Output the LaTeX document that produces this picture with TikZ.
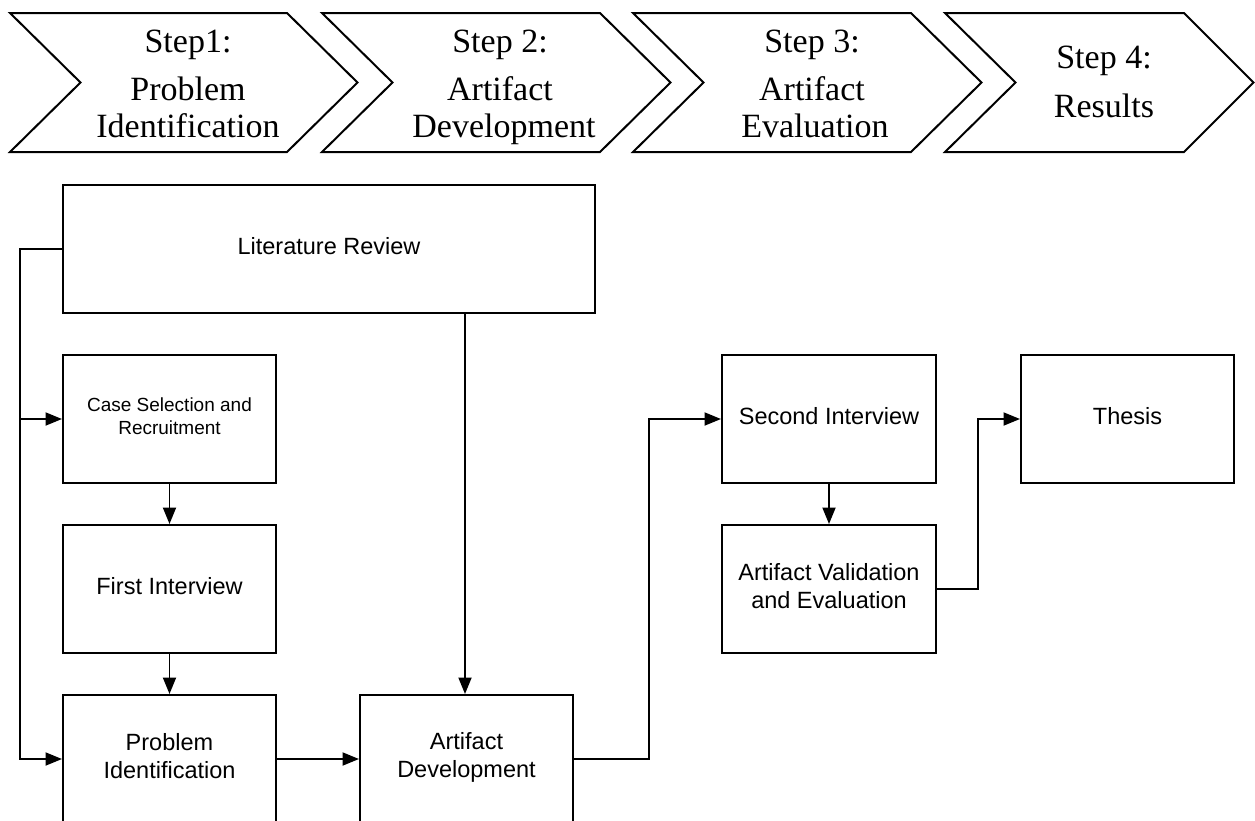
\documentclass[tikz,border=0pt]{standalone}
\usepackage{fontspec}
\setmainfont{Liberation Serif}
\setsansfont{Liberation Sans}
\usetikzlibrary{arrows.meta}

\begin{document}
\begin{tikzpicture}[x=1pt,y=-1pt,
  chev/.style={draw, line width=2pt, line join=miter},
  steptext/.style={anchor=base, inner sep=0pt, font=\rmfamily\fontsize{34}{37}\selectfont},
  box/.style={draw, line width=2pt, minimum width=213pt, minimum height=128pt,
    inner sep=0pt, align=center, text depth=6pt, font=\sffamily\fontsize{23.5}{28.8}\selectfont},
  smallbox/.style={box, font=\sffamily\fontsize{19}{22.5}\selectfont},
  conn/.style={line width=1.9pt, -{Triangle[length=16.5pt,width=13pt]}}]

\useasboundingbox (0,0) rectangle (1255,820);
\clip (0,0) rectangle (1255,820);
\fill[white] (0,0) rectangle (1255,820);

% process chevrons along the top
\draw[chev] (10,13) -- (287,13) -- (357.5,82.5) -- (287,152) -- (10,152) -- (80.5,82.5) -- cycle;
\draw[chev] (322,13) -- (600,13) -- (670.5,82.5) -- (600,152) -- (322,152) -- (392.5,82.5) -- cycle;
\draw[chev] (633,13) -- (911,13) -- (981.5,82.5) -- (911,152) -- (633,152) -- (703.5,82.5) -- cycle;
\draw[chev] (945,13) -- (1184,13) -- (1253.5,82.5) -- (1184,152) -- (945,152) -- (1015.5,82.5) -- cycle;

\node[steptext] (s1a) at (188,52) {Step1:};
\node[steptext] (s1b) at (188,100) {Problem};
\node[steptext] (s1c) at (188,137) {Identification};

\node[steptext] (s2a) at (500,52) {Step 2:};
\node[steptext] (s2b) at (500,100) {Artifact};
\node[steptext] (s2c) at (504,137) {Development};

\node[steptext] (s3a) at (812,52) {Step 3:};
\node[steptext] (s3b) at (812,100) {Artifact};
\node[steptext] (s3c) at (815,137) {Evaluation};

\node[steptext] (s4a) at (1104,68) {Step 4:};
\node[steptext] (s4b) at (1104,117) {Results};

% activity boxes
\node[box, minimum width=532pt] (lit) at (329,249) {Literature Review};
\node[smallbox] (case) at (169.5,419) {Case Selection and\\Recruitment};
\node[box] (first) at (169.5,589) {First Interview};
\node[box] (prob) at (169.5,759) {Problem\\Identification};
\node[box, text depth=8pt] (dev) at (466.5,759) {Artifact\\Development};
\node[box, minimum width=214pt] (si) at (829,419) {Second Interview};
\node[box, minimum width=214pt] (av) at (829,589) {Artifact Validation\\and Evaluation};
\node[box] (thesis) at (1127.5,419) {Thesis};

% routing columns for the elbow connectors
\coordinate (busL) at (20,0);
\coordinate (busM) at (649,0);
\coordinate (busR) at (978,0);
\coordinate (litdrop) at (465,313);

% connectors
\draw[conn] (lit.west) -- (lit.west -| busL) |- (prob.west);
\draw[conn] (case.west -| busL) -- (case.west);
\draw[conn] (case.south) -- (first.north);
\draw[conn] (first.south) -- (prob.north);
\draw[conn] (litdrop) -- (litdrop |- dev.north);
\draw[conn] (prob.east) -- (dev.west);
\draw[conn] (dev.east) -- (dev.east -| busM) |- (si.west);
\draw[conn] (si.south) -- (av.north);
\draw[conn] (av.east) -- (av.east -| busR) |- (thesis.west);
\end{tikzpicture}
\end{document}
